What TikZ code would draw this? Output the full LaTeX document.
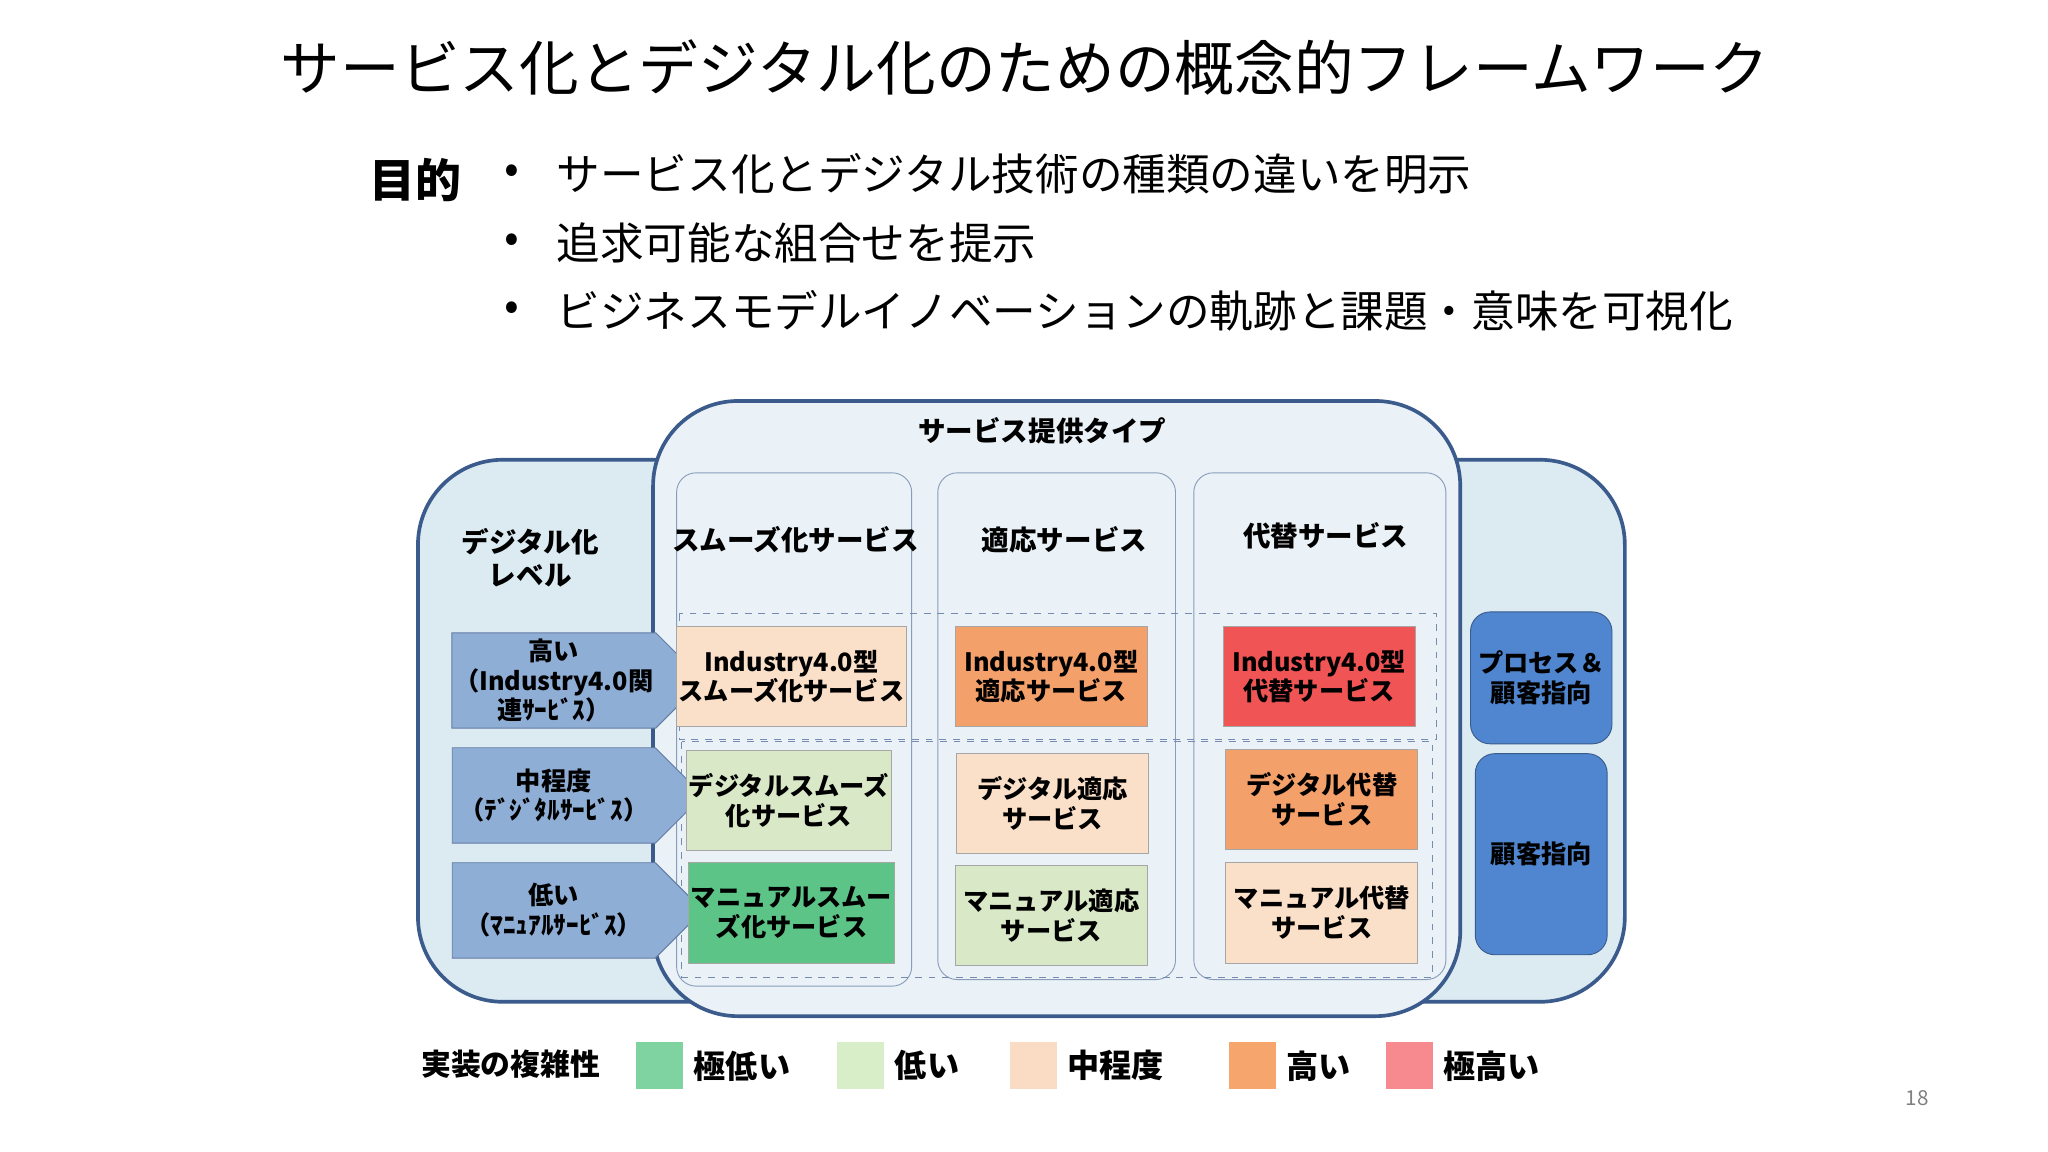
\documentclass[tikz,border=0pt]{standalone}
\usepackage{fontspec}
\setmainfont{Noto Sans CJK JP}
\usetikzlibrary{shapes.symbols}

\definecolor{frame}{HTML}{3B5B8C}
\definecolor{outerfill}{HTML}{DCEBF2}
\definecolor{innerfill}{HTML}{EAF1F7}
\definecolor{arrowfill}{HTML}{8FAED6}
\definecolor{boxblue}{HTML}{4F86CF}
\definecolor{cpeach}{HTML}{FBE0C9}
\definecolor{corange}{HTML}{F4A06A}
\definecolor{cred}{HTML}{F05454}
\definecolor{clgreen}{HTML}{D9E8C6}
\definecolor{cgreen}{HTML}{5DC488}

\begin{document}
\begin{tikzpicture}[x=0.02cm, y=-0.02cm,
  every node/.style={align=center, font=\bfseries\fontsize{11}{13}\selectfont},
  region/.style={draw=frame, line width=1.6pt, rounded corners=1.3cm},
  column/.style={draw=frame!60, fill=innerfill, rounded corners=0.3cm, thin},
  level/.style={shape=signal, signal to=east, draw=frame!80, fill=arrowfill,
    minimum width=3.84cm, minimum height=1.46cm, inner sep=1pt},
  cell/.style={draw=gray!70, minimum width=2.94cm, minimum height=1.54cm, inner sep=1pt},
  orient/.style={draw=frame, fill=boxblue, rounded corners=0.3cm, minimum width=2.02cm},
  key/.style={minimum size=0.72cm, inner sep=0pt},
  bullet/.style={font=\fontsize{19}{22}\selectfont, anchor=west}]

  \useasboundingbox (0,0) rectangle (1568,882);

  % title and purpose
  \node[font=\fontsize{26}{30}\selectfont] (title) at (785,52) {サービス化とデジタル化のための概念的フレームワーク};
  \node[font=\bfseries\fontsize{20}{24}\selectfont] (purpose) at (318,138) {目的};
  \foreach \y/\txt [count=\i] in {133/サービス化とデジタル技術の種類の違いを明示,
      186/追求可能な組合せを提示,
      238/ビジネスモデルイノベーションの軌跡と課題・意味を可視化} {
    \node[bullet] (dot\i) at (380,\y) {•};
    \node[bullet] (aim\i) at (420,\y) {\txt};
  }

  % regions
  \draw[region, fill=outerfill] (320,352) rectangle (1244,767);
  \draw[region, fill=innerfill] (500,307) rectangle (1118,778);
  \node[font=\bfseries\fontsize{12}{14}\selectfont] (stype) at (798,330) {サービス提供タイプ};
  \draw[column] (518,362) rectangle (698,755);
  \draw[column] (718,362) rectangle (900,750);
  \draw[column] (914,362) rectangle (1107,750);
  \node[font=\bfseries\fontsize{12}{14}\selectfont] (smooth) at (609,413) {スムーズ化サービス};
  \node[font=\bfseries\fontsize{12}{14}\selectfont] (adapt) at (815,413) {適応サービス};
  \node[font=\bfseries\fontsize{12}{14}\selectfont] (subst) at (1015,410) {代替サービス};
  \node[font=\bfseries\fontsize{12}{14}\selectfont] (dlevel) at (406,427) {デジタル化\\レベル};
  \draw[frame!70, dashed] (520,470) rectangle (1100,566);
  \draw[frame!70, dashed] (522,568) rectangle (1097,748);

  % levels
  \node[level] (high) at (424,521) {高い\\（Industry4.0関\\連ｻｰﾋﾞｽ）};
  \node[level] (mid) at (424,609) {中程度\\（ﾃﾞｼﾞﾀﾙｻｰﾋﾞｽ）};
  \node[level] (low) at (424,697) {低い\\（ﾏﾆｭｱﾙｻｰﾋﾞｽ）};

  % cells
  \node[cell, fill=cpeach] (s1) at (606,518) {Industry4.0型\\スムーズ化サービス};
  \node[cell, fill=corange] (a1) at (805,518) {Industry4.0型\\適応サービス};
  \node[cell, fill=cred] (d1) at (1010,518) {Industry4.0型\\代替サービス};
  \node[cell, fill=clgreen] (s2) at (604,613) {デジタルスムーズ\\化サービス};
  \node[cell, fill=cpeach] (a2) at (806,615) {デジタル適応\\サービス};
  \node[cell, fill=corange] (d2) at (1012,612) {デジタル代替\\サービス};
  \node[cell, fill=cgreen] (s3) at (606,699) {マニュアルスムー\\ズ化サービス};
  \node[cell, fill=clgreen] (a3) at (805,701) {マニュアル適応\\サービス};
  \node[cell, fill=cpeach] (d3) at (1012,699) {マニュアル代替\\サービス};

  % orientation
  \node[orient, minimum height=2.02cm] (proc) at (1180,519) {プロセス＆\\顧客指向};
  \node[orient, minimum height=3.08cm] (cust) at (1180,654) {顧客指向};

  % legend
  \node[font=\bfseries\fontsize{13}{15}\selectfont] (complex) at (391,815) {実装の複雑性};
  \foreach \x/\col/\txt [count=\i] in {505/7ED3A0/極低い, 659/D8EEC8/低い,
      791/FADCC4/中程度, 959/F6A56C/高い, 1079/F78A8E/極高い} {
    \definecolor{keycol}{HTML}{\col}
    \node[key, fill=keycol] (key\i) at (\x,816) {};
    \node[anchor=west, font=\bfseries\fontsize{14}{16}\selectfont] (keytxt\i) at (\x+20,816) {\txt};
  }
  \node[font=\fontsize{9}{10}\selectfont, text=gray] (page) at (1468,841) {18};
\end{tikzpicture}
\end{document}
